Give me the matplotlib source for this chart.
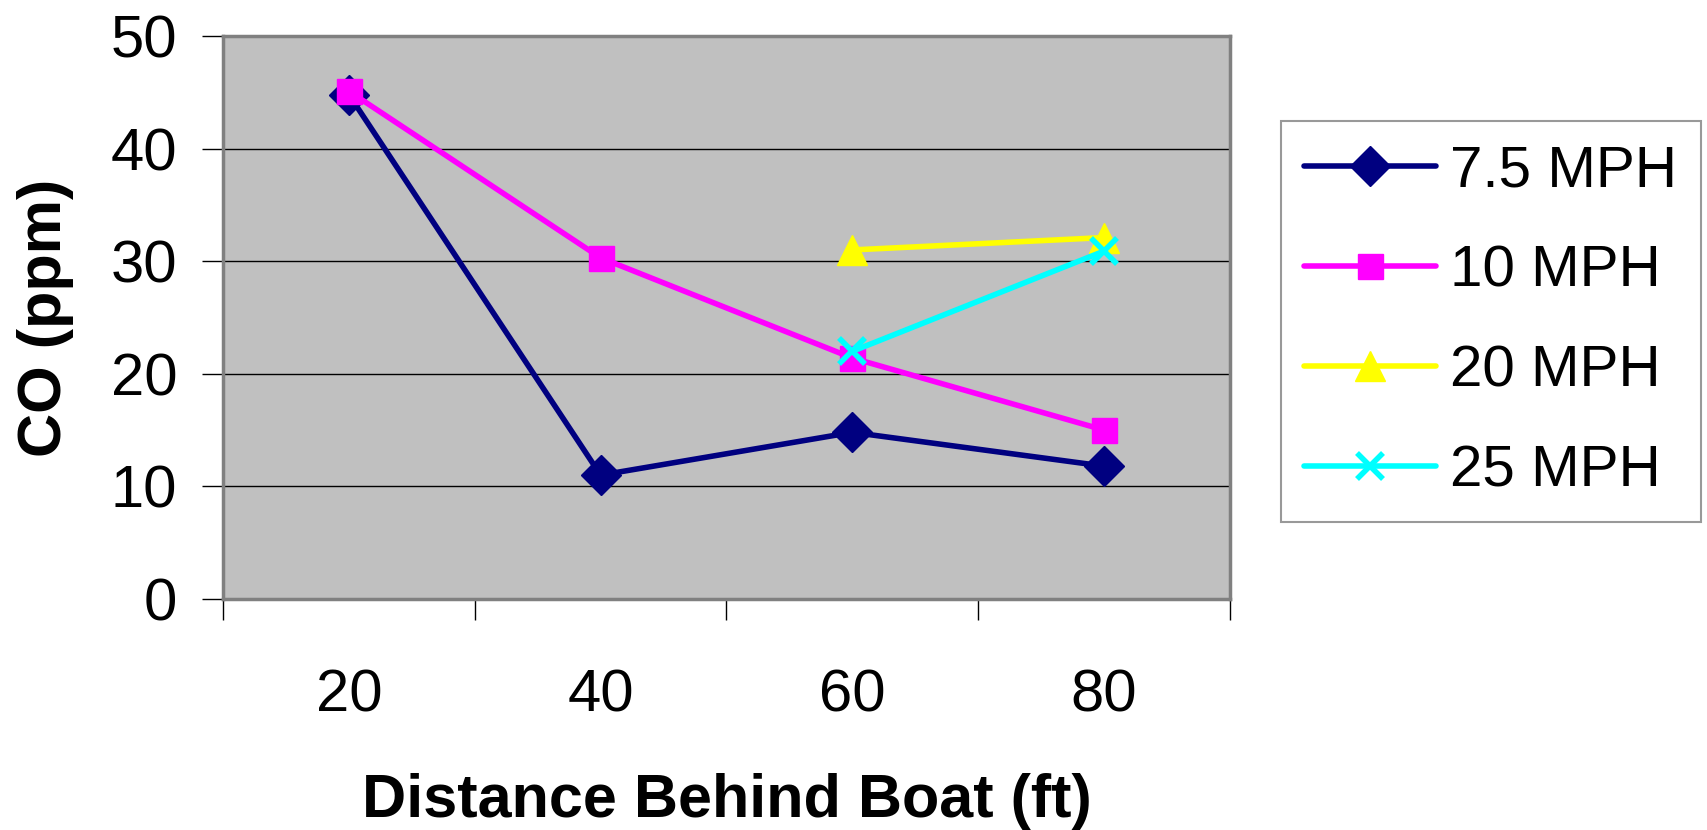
import numpy as np
import matplotlib
matplotlib.use("Agg")
from matplotlib import pyplot as plt

# Data
distances = ["20", "40", "60", "80"]
co_7_5 = [44.8, 11.0, 14.8, 11.8]
co_10 = [45.1, 30.3, 21.4, 15.0]
co_20 = [np.nan, np.nan, 31.0, 32.1]
co_25 = [np.nan, np.nan, 22.0, 30.9]
series_labels = ["7.5 MPH", "10 MPH", "20 MPH", "25 MPH"]
y_ticks = [0, 10, 20, 30, 40, 50]

plt.rcParams["font.family"] = ["Liberation Sans", "DejaVu Sans"]

fig = plt.figure(figsize=(17.07, 8.30), dpi=100)
ax = fig.add_axes([223 / 1707, 1 - 599 / 830, (1230 - 223) / 1707, (599 - 36) / 830])
ax.set_facecolor("#C0C0C0")

x = np.arange(len(distances))

ax.plot(x, co_7_5, color="#000080", lw=4, marker="D", ms=20,
        label=series_labels[0], solid_joinstyle="round", solid_capstyle="round")
ax.plot(x, co_10, color="#FF00FF", lw=4, marker="s", ms=18,
        label=series_labels[1], solid_joinstyle="round", solid_capstyle="round")
ax.plot(x, co_20, color="#FFFF00", lw=4, marker="^", ms=21,
        label=series_labels[2], solid_joinstyle="round", solid_capstyle="round")
ax.plot(x, co_25, color="#00FFFF", lw=4, marker="x", ms=19, mew=4,
        label=series_labels[3], solid_joinstyle="round", solid_capstyle="round")

# Axes limits and gridlines
ax.set_xlim(-0.5, len(distances) - 0.5)
ax.set_ylim(0, 50)
ax.set_yticks(y_ticks)
ax.yaxis.grid(True, color="black", lw=1.0)
ax.set_axisbelow(True)

# Category axis: labels at the centres, tick marks between categories
ax.set_xticks(x)
ax.set_xticklabels(distances)
ax.set_xticks(np.arange(-0.5, len(distances)), minor=True)
ax.tick_params(axis="x", which="major", length=0, pad=50, labelsize=43)
ax.tick_params(axis="x", which="minor", length=15, width=1.0, color="black")
ax.tick_params(axis="y", length=15, width=1.0, color="black", pad=18, labelsize=43)

for side in ["left", "right", "top", "bottom"]:
    ax.spines[side].set_color("#808080")
    ax.spines[side].set_linewidth(2.5)

ax.set_xlabel("Distance Behind Boat (ft)", fontsize=44, fontweight="bold", labelpad=36)
ax.set_ylabel("CO (ppm)", fontsize=44, fontweight="bold", labelpad=26)

leg = fig.legend(loc="upper left", bbox_to_anchor=(1281 / 1707, 1 - 121 / 830),
                 bbox_transform=fig.transFigure, fontsize=42, frameon=True,
                 fancybox=False, edgecolor="#808080", handlelength=2.25,
                 handletextpad=0.25, labelspacing=0.79, borderpad=0.4,
                 borderaxespad=0, markerscale=1.0)
leg.get_frame().set_linewidth(1.5)

fig.savefig("out.png", dpi=100, facecolor="white")
